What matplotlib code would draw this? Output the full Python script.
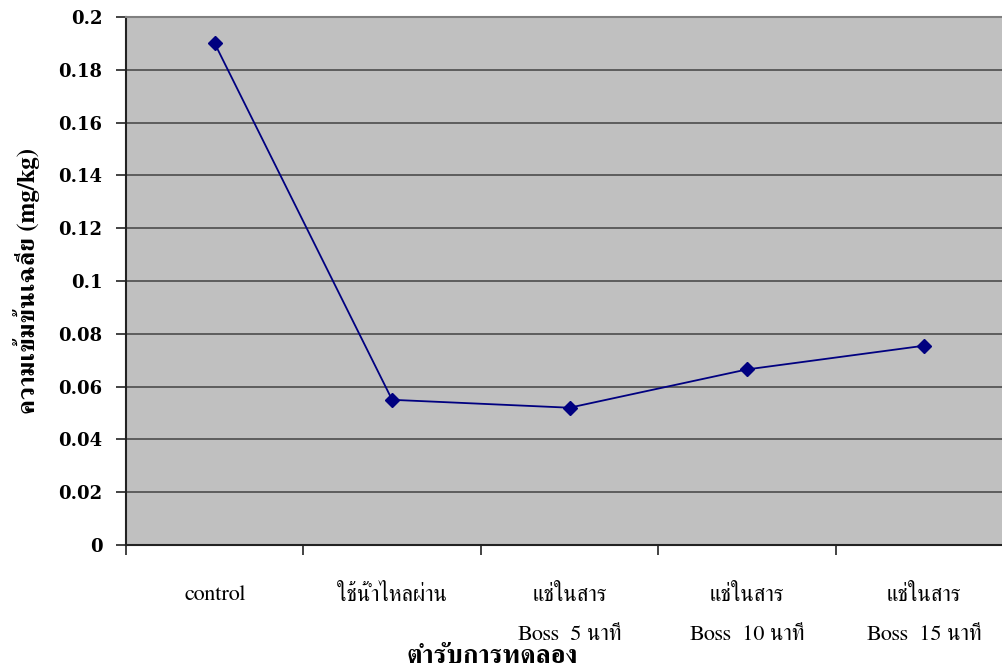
import matplotlib
matplotlib.use("Agg")
import matplotlib.pyplot as plt
from matplotlib import font_manager
from matplotlib.ticker import FixedLocator, NullFormatter

# data
categories = ["control", "ใช้น้ำไหลผ่าน", "แช่ในสาร\nBoss  5 นาที",
              "แช่ในสาร\nBoss  10 นาที", "แช่ในสาร\nBoss  15 นาที"]
concentration = [0.190, 0.055, 0.052, 0.0665, 0.0755]
y_ticks = [0, 0.02, 0.04, 0.06, 0.08, 0.1, 0.12, 0.14, 0.16, 0.18, 0.2]
y_tick_labels = ["0", "0.02", "0.04", "0.06", "0.08", "0.1", "0.12",
                 "0.14", "0.16", "0.18", "0.2"]
x_title = "ตำรับการทดลอง"
y_title = "ความเข้มข้นเฉลี่ย (mg/kg)"


def thai_fonts():
    # installed families that have Thai glyphs; also one with a bold face
    try:
        from fontTools.ttLib import TTFont
    except ImportError:
        return None, None
    regular, bold = None, None
    for f in font_manager.fontManager.ttflist:
        try:
            tt = TTFont(f.fname, fontNumber=0, lazy=True)
            cmap = tt.getBestCmap() or {}
        except Exception:
            continue
        if 0x0E01 not in cmap or 0x0E33 not in cmap:
            continue
        w = f.weight if isinstance(f.weight, int) else 400
        if f.weight == "bold":
            w = 700
        serif = "Serif" in f.name
        if w >= 600 and (bold is None or serif):
            bold = f.name
        if regular is None or (serif and "Serif" not in regular):
            regular = f.name
    return regular, bold or regular


thai, thai_bold = thai_fonts()
thai_family = [thai, "DejaVu Serif"] if thai else ["DejaVu Serif"]
bold_family = [thai_bold, "DejaVu Serif"] if thai_bold else ["DejaVu Serif"]

fig = plt.figure(figsize=(10.03, 6.71), dpi=100)
ax = fig.add_axes([126 / 1003, 126 / 671, 887 / 1003, 528 / 671])
ax.set_facecolor("#C0C0C0")

x = [i + 0.5 for i in range(len(concentration))]
ax.plot(x, concentration, color="#000080", lw=1.3, marker="D",
        markersize=7, markerfacecolor="#000080", markeredgecolor="#000080",
        zorder=3)

ax.set_xlim(0, len(categories))
ax.set_ylim(0, 0.2)

# horizontal grid lines
ax.set_yticks(y_ticks)
ax.set_yticklabels(y_tick_labels, family="DejaVu Serif", fontsize=13,
                   fontweight="bold")
ax.yaxis.grid(True, color="#555555", lw=1.3)
ax.set_axisbelow(True)

# category boundaries as major ticks, labels centred as minor ticks
ax.xaxis.set_major_locator(FixedLocator(range(len(categories) + 1)))
ax.xaxis.set_major_formatter(NullFormatter())
ax.xaxis.set_minor_locator(FixedLocator(x))
ax.set_xticklabels(categories, minor=True, family=thai_family,
                   fontsize=16, linespacing=2.3)
ax.tick_params(axis="x", which="major", length=7, width=1.2,
               direction="out", color="#222222")
ax.tick_params(axis="x", which="minor", length=0, pad=29)
ax.tick_params(axis="y", length=7, width=1.2, direction="out",
               color="#222222", pad=10)

for side in ["top", "right"]:
    ax.spines[side].set_color("#808080")
    ax.spines[side].set_linewidth(1.5)
ax.spines["left"].set_color("#222222")
ax.spines["left"].set_linewidth(1.5)
ax.spines["bottom"].set_color("#222222")
ax.spines["bottom"].set_linewidth(1.5)

fig.text(492 / 1003, 1 - 657 / 671, x_title, family=bold_family,
         fontsize=19, fontweight="bold", ha="center", va="center")
fig.text(27 / 1003, 1 - 281 / 671, y_title, family=bold_family,
         fontsize=18, fontweight="bold", ha="center", va="center",
         rotation=90)

fig.savefig("out.png", dpi=100)
